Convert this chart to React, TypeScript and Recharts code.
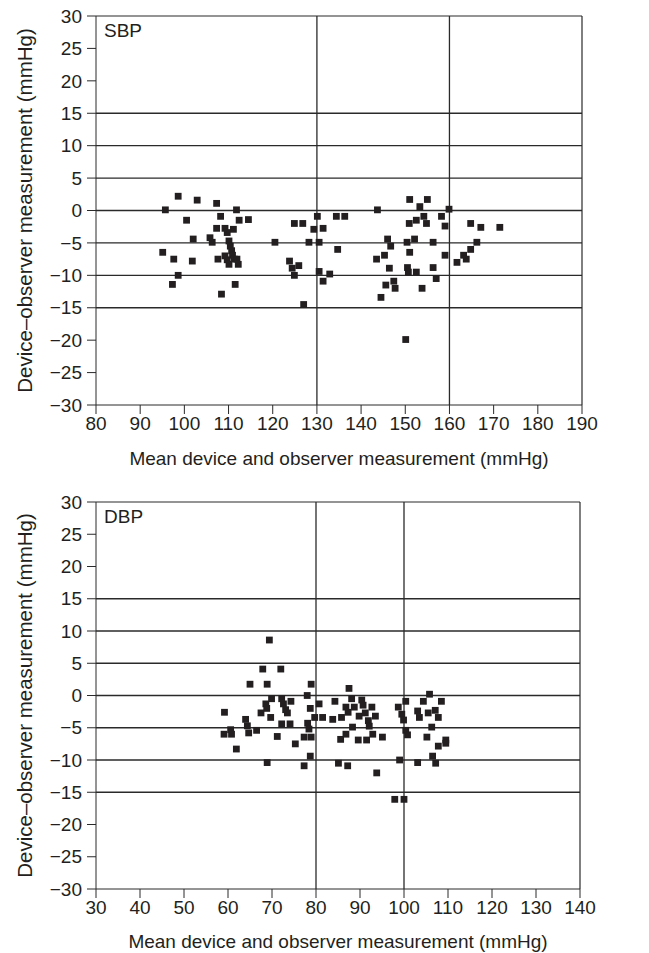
import { ScatterChart, Scatter, XAxis, YAxis, ReferenceLine } from 'recharts';

// SBP panel: mean of device and observer vs difference
const sbpMean = [
  95.1, 95.7, 97.6, 97.3, 98.6, 98.6, 100.5, 102.0, 101.8, 102.9,
  105.8, 106.3, 107.3, 107.3, 107.6, 108.2, 108.4, 109.2, 109.2, 109.7,
  110.1, 109.7, 110.1, 110.4, 110.7, 110.9, 111.1, 111.3, 111.8, 111.9,
  112.2, 111.5, 112.4, 114.5, 120.5, 123.8, 124.4, 124.9, 124.9, 125.9,
  126.8, 127.0, 128.2, 129.3, 130.1, 130.5, 130.5, 131.4, 131.4, 132.9,
  134.4, 134.7, 136.3, 143.5, 143.7, 144.5, 145.3, 145.6, 146.0, 146.4,
  146.7, 147.4, 147.7, 150.1, 150.4, 150.5, 150.7, 150.9, 151.0, 151.0,
  152.1, 152.5, 152.5, 153.3, 153.8, 154.2, 154.8, 155.0, 156.3, 156.3,
  157.0, 158.2, 159.0, 159.0, 159.9, 161.7, 163.2, 163.8, 164.8, 164.8,
  166.2, 167.1, 171.4,
];
const sbpDiff = [
  -6.45, 0.1, -7.5, -11.4, 2.2, -10.0, -1.5, -4.4, -7.8, 1.6,
  -4.2, -4.9, 1.1, -2.75, -7.5, -0.9, -12.9, -2.75, -7.0, -3.4,
  -4.7, -7.6, -8.3, -5.5, -6.2, -6.9, -2.9, -7.5, 0.1, -7.5,
  -8.3, -11.4, -1.5, -1.4, -4.9, -7.8, -8.9, -10.0, -2.0, -8.5,
  -2.0, -14.5, -4.9, -2.9, -0.9, -4.9, -9.4, -2.75, -10.9, -9.8,
  -0.9, -6.0, -0.9, -7.5, 0.1, -13.4, -6.9, -11.5, -4.4, -8.9,
  -5.5, -10.9, -12.0, -19.9, -4.9, -8.8, -9.5, -2.0, 1.7, -6.45,
  -4.4, -1.5, -9.5, 0.6, -12.0, -0.9, -2.0, 1.7, -4.9, -8.8,
  -10.5, -0.9, -2.4, -6.9, 0.2, -8.0, -6.9, -7.5, -2.0, -6.0,
  -4.9, -2.6, -2.6,
];

// DBP panel
const dbpMean = [
  59.2, 59.1, 60.6, 60.8, 61.9, 64.0, 64.4, 64.7, 65.0, 66.5,
  67.5, 67.9, 68.6, 68.8, 68.9, 68.9, 69.4, 69.7, 69.9, 71.2,
  72.0, 72.2, 72.2, 72.6, 73.1, 73.5, 74.1, 74.3, 75.3, 77.3,
  77.3, 78.0, 78.1, 78.4, 78.7, 78.7, 78.9, 78.9, 79.7, 80.7,
  81.5, 83.8, 84.3, 85.1, 85.6, 85.8, 86.8, 86.8, 87.2, 87.3,
  87.5, 88.1, 88.3, 88.7, 89.6, 89.8, 90.4, 90.7, 91.2, 91.5,
  91.9, 92.1, 92.7, 92.9, 93.5, 93.8, 95.1, 97.9, 98.7, 99.0,
  99.5, 99.9, 100.0, 100.4, 100.4, 100.8, 103.1, 103.1, 103.5, 104.4,
  105.2, 105.5, 105.8, 106.3, 106.5, 107.1, 107.2, 107.8, 107.8, 108.5,
  109.5, 109.5,
];
const dbpDiff = [
  -2.6, -6.0, -5.3, -6.0, -8.3, -3.7, -4.7, -5.8, 1.75, -5.4,
  -2.7, 4.1, -1.3, -2.0, 1.75, -10.4, 8.6, -3.4, -0.5, -6.35,
  4.1, -0.5, -4.4, -1.3, -2.2, -2.7, -4.4, -0.9, -7.5, -6.45,
  -10.9, 0.0, -4.3, -5.2, -2.0, -9.4, 1.75, -6.45, -3.4, -1.3,
  -3.4, -3.7, -0.9, -10.5, -6.8, -3.4, -1.8, -6.0, -10.9, -2.6,
  1.1, -0.5, -4.9, -1.8, -6.9, -3.2, -0.7, -1.5, -2.7, -6.9,
  -3.9, -4.75, -1.8, -6.0, -3.2, -12.0, -6.45, -16.1, -1.8, -10.0,
  -2.9, -3.8, -16.1, -0.9, -5.4, -6.1, -2.4, -10.4, -3.4, -0.9,
  -6.45, -2.7, 0.2, -4.9, -9.4, -2.3, -10.5, -3.4, -7.85, -0.9,
  -6.9, -7.4,
];

const sbpXTicks = [80, 90, 100, 110, 120, 130, 140, 150, 160, 170, 180, 190];
const dbpXTicks = [30, 40, 50, 60, 70, 80, 90, 100, 110, 120, 130, 140];
const yTicks = [-30, -25, -20, -15, -10, -5, 0, 5, 10, 15, 20, 25, 30];
const hLines = [15, 10, 5, 0, -5, -10, -15];
const sbpVLines = [130, 160];
const dbpVLines = [80, 100];

const FONT = '"Liberation Sans", Arial, Helvetica, sans-serif';
const FS = 19;
const INK = '#231f20';
const LINE = '#2a2a2a';

const toPoints = (xs: number[], ys: number[]) => xs.map((x, i) => ({ x, y: ys[i] }));
const fmt = (v: number) => String(v).replace('-', '\u2212');

function Square(props: any) {
  const { cx, cy } = props;
  return <rect x={cx - 3.4} y={cy - 3.4} width={6.8} height={6.8} fill={INK} />;
}

interface PanelProps {
  name: string;
  points: { x: number; y: number }[];
  xTicks: number[];
  vLines: number[];
  height: number;
  margin: { top: number; right: number; bottom: number; left: number };
  xAxisHeight: number;
  xLabelOffset: number;
}

function Panel({ name, points, xTicks, vLines, height, margin, xAxisHeight, xLabelOffset }: PanelProps) {
  const xMin = xTicks[0];
  const xMax = xTicks[xTicks.length - 1];
  const textStyle = { fill: INK, fontSize: FS, fontFamily: FONT };
  return (
    <ScatterChart width={649} height={height} margin={margin}>
      <XAxis
        type="number"
        dataKey="x"
        domain={[xMin, xMax]}
        ticks={xTicks}
        interval={0}
        allowDataOverflow
        height={xAxisHeight}
        stroke={LINE}
        tickSize={9}
        tickMargin={3}
        tick={textStyle}
        label={{
          value: 'Mean device and observer measurement (mmHg)',
          position: 'insideBottom',
          offset: xLabelOffset,
          style: textStyle,
        }}
      />
      <YAxis
        type="number"
        dataKey="y"
        domain={[-30, 30]}
        ticks={yTicks}
        interval={0}
        width={96}
        stroke={LINE}
        tickSize={9}
        tickMargin={5}
        tick={textStyle}
        tickFormatter={fmt}
        label={{
          value: 'Device\u2013observer measurement (mmHg)',
          angle: -90,
          position: 'insideLeft',
          offset: 25,
          style: { ...textStyle, fontSize: 20.5, textAnchor: 'middle' },
        }}
      />
      {hLines.map((v) => (
        <ReferenceLine key={'h' + v} y={v} stroke={LINE} strokeWidth={1.3} />
      ))}
      {vLines.map((v) => (
        <ReferenceLine key={'v' + v} x={v} stroke={LINE} strokeWidth={1.3} />
      ))}
      <ReferenceLine y={30} stroke={LINE} strokeWidth={1.2} />
      <ReferenceLine x={xMax} stroke={LINE} strokeWidth={1.2} />
      <ReferenceLine
        x={xMin}
        stroke="none"
        label={{ value: name, position: 'insideTopLeft', offset: 8, style: textStyle }}
      />
      <Scatter data={points} shape={Square} isAnimationActive={false} />
    </ScatterChart>
  );
}

export default function App() {
  return (
    <div style={{ position: 'absolute', left: 0, top: 0, width: 649, height: 953, background: '#fff' }}>
      <Panel
        name="SBP"
        points={toPoints(sbpMean, sbpDiff)}
        xTicks={sbpXTicks}
        vLines={sbpVLines}
        height={480}
        margin={{ top: 16, right: 67, bottom: 0, left: 0 }}
        xAxisHeight={75}
        xLabelOffset={15}
      />
      <Panel
        name="DBP"
        points={toPoints(dbpMean, dbpDiff)}
        xTicks={dbpXTicks}
        vLines={dbpVLines}
        height={473}
        margin={{ top: 22, right: 69, bottom: 0, left: 0 }}
        xAxisHeight={64}
        xLabelOffset={5}
      />
    </div>
  );
}
